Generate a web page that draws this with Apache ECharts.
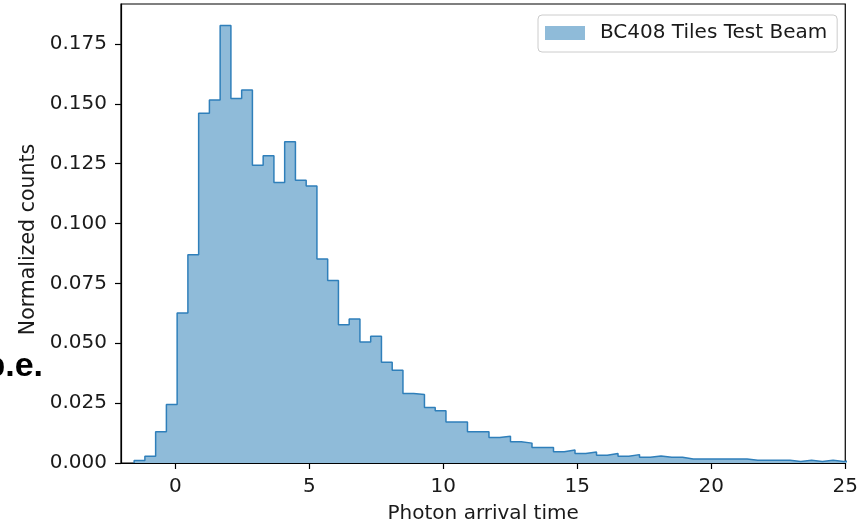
<!DOCTYPE html>
<html>
<head>
<meta charset="utf-8">
<script src="https://cdn.jsdelivr.net/npm/echarts@6/dist/echarts.min.js"></script>
<style>
html,body{margin:0;padding:0;background:#fff;}
#chart{width:861px;height:529px;}
</style>
</head>
<body>
<div id="chart"></div>
<script>
// Histogram: bin layout and normalized counts per bin
const binStart = -1.54;
const binWidth = 0.4013;
const counts = [
  0.0010, 0.0028, 0.0131, 0.0244, 0.0626, 0.0870, 0.1461, 0.1516, 0.1827, 0.1522,
  0.1558, 0.1243, 0.1283, 0.1171, 0.1342, 0.1181, 0.1157, 0.0852, 0.0762, 0.0577,
  0.0601, 0.0505, 0.0529, 0.0421, 0.0387, 0.0290, 0.0286, 0.0232, 0.0218, 0.0171,
  0.0171, 0.0130, 0.0130, 0.0106, 0.0112, 0.0089, 0.0083, 0.0065, 0.0065, 0.0047,
  0.0054, 0.0040, 0.0046, 0.0032, 0.0040, 0.0028, 0.0035, 0.0024, 0.0029, 0.0024,
  0.0024, 0.0017, 0.0017, 0.0017, 0.0017, 0.0017, 0.0017, 0.0011, 0.0011, 0.0011,
  0.0011, 0.0006, 0.0011, 0.0006, 0.0011, 0.0006, 0.0011
];
const xTicks = [0, 5, 10, 15, 20, 25];
const yTicks = [0, 0.025, 0.05, 0.075, 0.1, 0.125, 0.15, 0.175];
const seriesName = 'BC408 Tiles Test Beam';
const xName = 'Photon arrival time';
const yName = 'Normalized counts';
const sideText = 'p.e.';

// Build step outline points from bin edges
const pts = [[binStart, 0]];
counts.forEach((c, i) => pts.push([binStart + i * binWidth, c]));
const endEdge = binStart + counts.length * binWidth;
pts.push([endEdge, counts[counts.length - 1]]);
pts.push([endEdge, 0]);

const FONT = 'DejaVu Sans';
const FS = 20;
const chart = echarts.init(document.getElementById('chart'), null, {renderer: 'canvas'});
chart.setOption({
  animation: false,
  backgroundColor: '#ffffff',
  grid: {left: 121, right: 14.5, top: 4, bottom: 62.3, show: true, borderColor: '#000', borderWidth: 1.2, backgroundColor: 'transparent'},
  xAxis: {
    type: 'value', min: -2.03, max: 25,
    name: xName, nameLocation: 'middle', nameGap: 41,
    nameTextStyle: {fontFamily: FONT, fontSize: FS, color: '#1a1a1a'},
    axisLine: {show: true, onZero: false, lineStyle: {color: '#000', width: 1.2}},
    axisTick: {show: true, inside: false, length: 6, lineStyle: {color: '#000', width: 1.2}, customValues: xTicks},
    axisLabel: {show: true, margin: 14, fontFamily: FONT, fontSize: FS, color: '#1a1a1a', customValues: xTicks, formatter: v => String(v)},
    splitLine: {show: false}
  },
  yAxis: {
    type: 'value', min: 0, max: 0.19167,
    name: yName, nameLocation: 'middle', nameGap: 82, nameRotate: 90,
    nameTextStyle: {fontFamily: FONT, fontSize: 20.5, color: '#1a1a1a', padding: [0, 12, 0, 0]},
    axisLine: {show: true, onZero: false, lineStyle: {color: '#000', width: 1.2}},
    axisTick: {show: true, inside: false, length: 6, lineStyle: {color: '#000', width: 1.2}, customValues: yTicks},
    axisLabel: {show: true, margin: 14, fontFamily: FONT, fontSize: FS, color: '#1a1a1a', customValues: yTicks, formatter: v => v.toFixed(3)},
    splitLine: {show: false}
  },
  legend: {
    left: 538, top: 15,
    orient: 'vertical',
    backgroundColor: '#fff', borderColor: '#cccccc', borderWidth: 1, borderRadius: 4,
    padding: [7, 10, 8, 7],
    itemWidth: 40, itemHeight: 14,
    textStyle: {fontFamily: FONT, fontSize: FS, color: '#1a1a1a', lineHeight: 22, padding: [0, 0, 0, 10]},
    data: [{name: seriesName, icon: 'rect', itemStyle: {color: '#8fbbd9', borderWidth: 0}}]
  },
  graphic: [{
    type: 'text',
    x: 43, y: 367,
    style: {text: sideText, fill: '#000', font: 'bold 34px "Liberation Sans", Arial, sans-serif', textAlign: 'right', textVerticalAlign: 'middle'}
  }],
  series: [{
    name: seriesName,
    type: 'line',
    step: 'end',
    data: pts,
    symbol: 'none',
    clip: true,
    lineStyle: {color: '#2f7fba', width: 1.5},
    itemStyle: {color: '#2f7fba'},
    areaStyle: {color: '#8fbbd9', opacity: 1}
  }]
});
</script>
</body>
</html>
